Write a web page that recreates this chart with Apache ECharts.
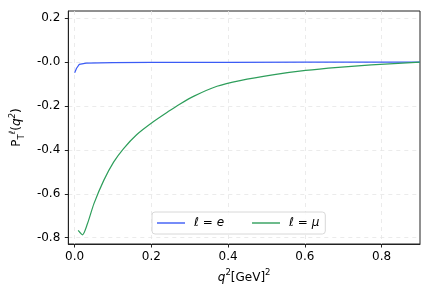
<!DOCTYPE html>
<html>
<head>
<meta charset="utf-8">
<script src="https://cdn.jsdelivr.net/npm/echarts@6/dist/echarts.min.js"></script>
<style>html,body{margin:0;padding:0;background:#fff}#c{width:432px;height:293px}</style>
</head>
<body>
<div id="c"></div>
<script>
// q^2 values and P_T for l = e
const xE = [0.0, 0.005, 0.012, 0.03, 0.1, 0.2, 0.4, 0.6, 0.9];
const yE = [-0.048, -0.028, -0.010, -0.005, -0.0025, -0.0015, -0.0008, -0.0004, 0.0];
// q^2 values and P_T for l = mu
const xMu = [0.0092, 0.0205, 0.0333, 0.0503, 0.0759, 0.1015, 0.127, 0.1615, 0.204, 0.247, 0.2726, 0.311, 0.371, 0.431, 0.516, 0.602, 0.687, 0.773, 0.9];
const yMu = [-0.767, -0.787, -0.737, -0.645, -0.539, -0.456, -0.395, -0.331, -0.273, -0.222, -0.193, -0.155, -0.110, -0.084, -0.058, -0.038, -0.024, -0.013, 0.0];
// tick labels
const xTicks = [0.0, 0.2, 0.4, 0.6, 0.8];
const yTicks = [0.2, 0.0, -0.2, -0.4, -0.6, -0.8];
const seriesNames = ['ℓ = e', 'ℓ = μ'];

const chart = echarts.init(document.getElementById('c'));
const font = 'DejaVu Sans';
const grid = {show: true, lineStyle: {color: '#e6e6e6', type: [4, 4], width: 0.8}};
chart.setOption({
  animation: false,
  textStyle: {fontFamily: font},
  grid: {left: 62, right: 12, top: 11, bottom: 49, show: true, borderColor: '#222', borderWidth: 1, backgroundColor: 'transparent'},
  legend: {
    left: 152, top: 212,
    data: seriesNames.map(n => ({name: n, icon: 'rect'})),
    itemWidth: 28, itemHeight: 1.4, itemGap: 28,
    padding: [5, 6, 5, 5],
    borderColor: '#d8d8d8', borderWidth: 1, borderRadius: 3,
    backgroundColor: 'rgba(255,255,255,0.85)',
    textStyle: {fontFamily: font, fontSize: 12, fontStyle: 'italic', color: '#000', padding: [0, 0, 0, 4]}
  },
  xAxis: {
    type: 'value', min: -0.0165, max: 0.9,
    name: '{i|q}{s|2}{n|[GeV]}{s|2}', nameLocation: 'middle', nameGap: 20,
    nameTextStyle: {rich: {
      i: {fontFamily: font, fontSize: 12, fontStyle: 'italic', color: '#000', lineHeight: 16, verticalAlign: 'bottom'},
      n: {fontFamily: font, fontSize: 12, color: '#000', lineHeight: 16, verticalAlign: 'bottom'},
      s: {fontFamily: font, fontSize: 8.5, color: '#000', lineHeight: 16, verticalAlign: 'top'}
    }},
    axisLine: {show: true, onZero: false, lineStyle: {color: '#222', width: 1}},
    axisTick: {show: true, length: 3.5, lineStyle: {color: '#222'}, customValues: xTicks},
    axisLabel: {customValues: xTicks, color: '#000', fontSize: 12, margin: 7, formatter: v => v.toFixed(1)},
    splitLine: grid
  },
  yAxis: {
    type: 'value', min: -0.829, max: 0.233,
    name: '{n|P}{b|T}{t|ℓ}{n|(}{i|q}{t|2}{n|)}', nameLocation: 'middle', nameGap: 40, nameRotate: 90,
    nameTextStyle: {rich: {
      n: {fontFamily: font, fontSize: 12, color: '#000', lineHeight: 18, verticalAlign: 'middle'},
      i: {fontFamily: font, fontSize: 12, fontStyle: 'italic', color: '#000', lineHeight: 18, verticalAlign: 'middle'},
      b: {fontFamily: font, fontSize: 8.5, color: '#000', lineHeight: 18, verticalAlign: 'bottom'},
      t: {fontFamily: font, fontSize: 8.5, fontStyle: 'italic', color: '#000', lineHeight: 18, verticalAlign: 'top'}
    }},
    axisLine: {show: true, onZero: false, lineStyle: {color: '#222', width: 1}},
    axisTick: {show: true, length: 3.5, lineStyle: {color: '#222'}, customValues: yTicks},
    axisLabel: {customValues: yTicks, color: '#000', fontSize: 12, margin: 8,
      formatter: v => (Math.abs(v) < 1e-9 ? '-0.0' : v.toFixed(1))},
    splitLine: grid
  },
  series: [
    {name: seriesNames[0], type: 'line', showSymbol: false, symbol: 'none',
      data: xE.map((x, i) => [x, yE[i]]),
      lineStyle: {color: '#3b5bf5', width: 1.2}, itemStyle: {color: '#3b5bf5'}},
    {name: seriesNames[1], type: 'line', showSymbol: false, symbol: 'none', smooth: 0.25,
      data: xMu.map((x, i) => [x, yMu[i]]),
      lineStyle: {color: '#2e9e5b', width: 1.2}, itemStyle: {color: '#2e9e5b'}}
  ]
});
</script>
</body>
</html>
